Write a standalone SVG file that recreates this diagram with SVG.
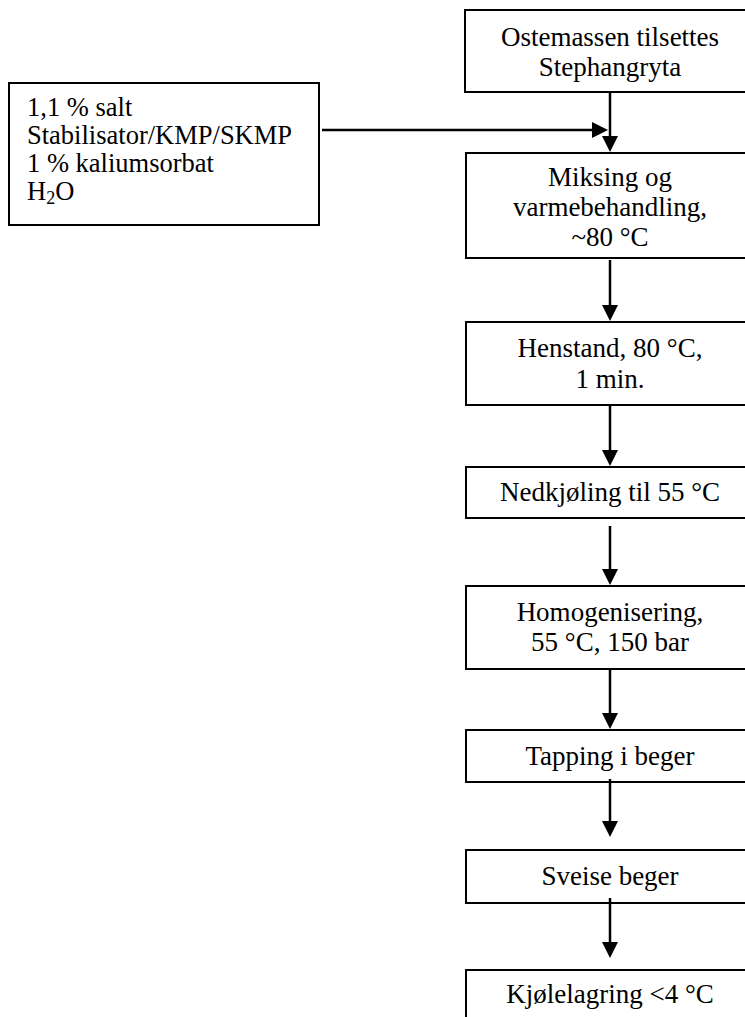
<svg xmlns="http://www.w3.org/2000/svg" width="745" height="1017" viewBox="0 0 745 1017">
<style>
.box{fill:#fff;stroke:#000;stroke-width:2}
.t{font-family:"Liberation Serif","Times New Roman",serif;font-size:27px;fill:#000}
.s{font-size:26.5px}
.c{text-anchor:middle}
.con line{stroke:#000;stroke-width:2.5;marker-end:url(#ah)}
</style>
<defs>
<marker id="ah" markerUnits="userSpaceOnUse" markerWidth="16" markerHeight="16" refX="2" refY="8" orient="auto">
<path d="M0,0 L16,8 L0,16 z" fill="#000"/>
</marker>
</defs>
<rect width="745" height="1017" fill="#fff"/>
<g id="n-ostemassen">
<rect class="box" x="465" y="10" width="290" height="82"/>
<text class="t c" x="610" y="46">Ostemassen tilsettes</text>
<text class="t c" x="610" y="76">Stephangryta</text>
</g>
<g id="n-ingredienser">
<rect class="box" x="9" y="83" width="310" height="142"/>
<text class="t s" x="27" y="116">1,1 % salt</text>
<text class="t s" x="27" y="144">Stabilisator/KMP/SKMP</text>
<text class="t s" x="27" y="172">1 % kaliumsorbat</text>
<text class="t s" x="27" y="200">H<tspan font-size="18" dy="4">2</tspan><tspan dy="-4">O</tspan></text>
</g>
<g id="n-miksing">
<rect class="box" x="466" y="153" width="290" height="105"/>
<text class="t c" x="610" y="186">Miksing og</text>
<text class="t c" x="610" y="216">varmebehandling,</text>
<text class="t c" x="610" y="246">~80 °C</text>
</g>
<g id="n-henstand">
<rect class="box" x="466" y="322" width="290" height="83"/>
<text class="t c" x="610" y="357">Henstand, 80 °C,</text>
<text class="t c" x="610" y="388">1 min.</text>
</g>
<g id="n-nedkjoling">
<rect class="box" x="466" y="467" width="290" height="51"/>
<text class="t c" x="610" y="501">Nedkjøling til 55 °C</text>
</g>
<g id="n-homogenisering">
<rect class="box" x="466" y="586" width="290" height="83"/>
<text class="t c" x="610" y="621">Homogenisering,</text>
<text class="t c" x="610" y="651">55 °C, 150 bar</text>
</g>
<g id="n-tapping">
<rect class="box" x="466" y="730" width="290" height="52"/>
<text class="t c" x="610" y="765">Tapping i beger</text>
</g>
<g id="n-sveise">
<rect class="box" x="466" y="850" width="290" height="53"/>
<text class="t c" x="610" y="885">Sveise beger</text>
</g>
<g id="n-kjolelagring">
<rect class="box" x="466" y="970" width="290" height="70"/>
<text class="t c" x="610" y="1003">Kjølelagring &lt;4 °C</text>
</g>
<g id="connectors" class="con">
<line x1="322" y1="130" x2="594" y2="130"/>
<line x1="610" y1="92" x2="610" y2="138"/>
<line x1="610" y1="260" x2="610" y2="307"/>
<line x1="610" y1="406" x2="610" y2="452"/>
<line x1="610" y1="526" x2="610" y2="571"/>
<line x1="610" y1="669" x2="610" y2="715"/>
<line x1="610" y1="779" x2="610" y2="823"/>
<line x1="610" y1="898" x2="610" y2="944"/>
</g>
</svg>
